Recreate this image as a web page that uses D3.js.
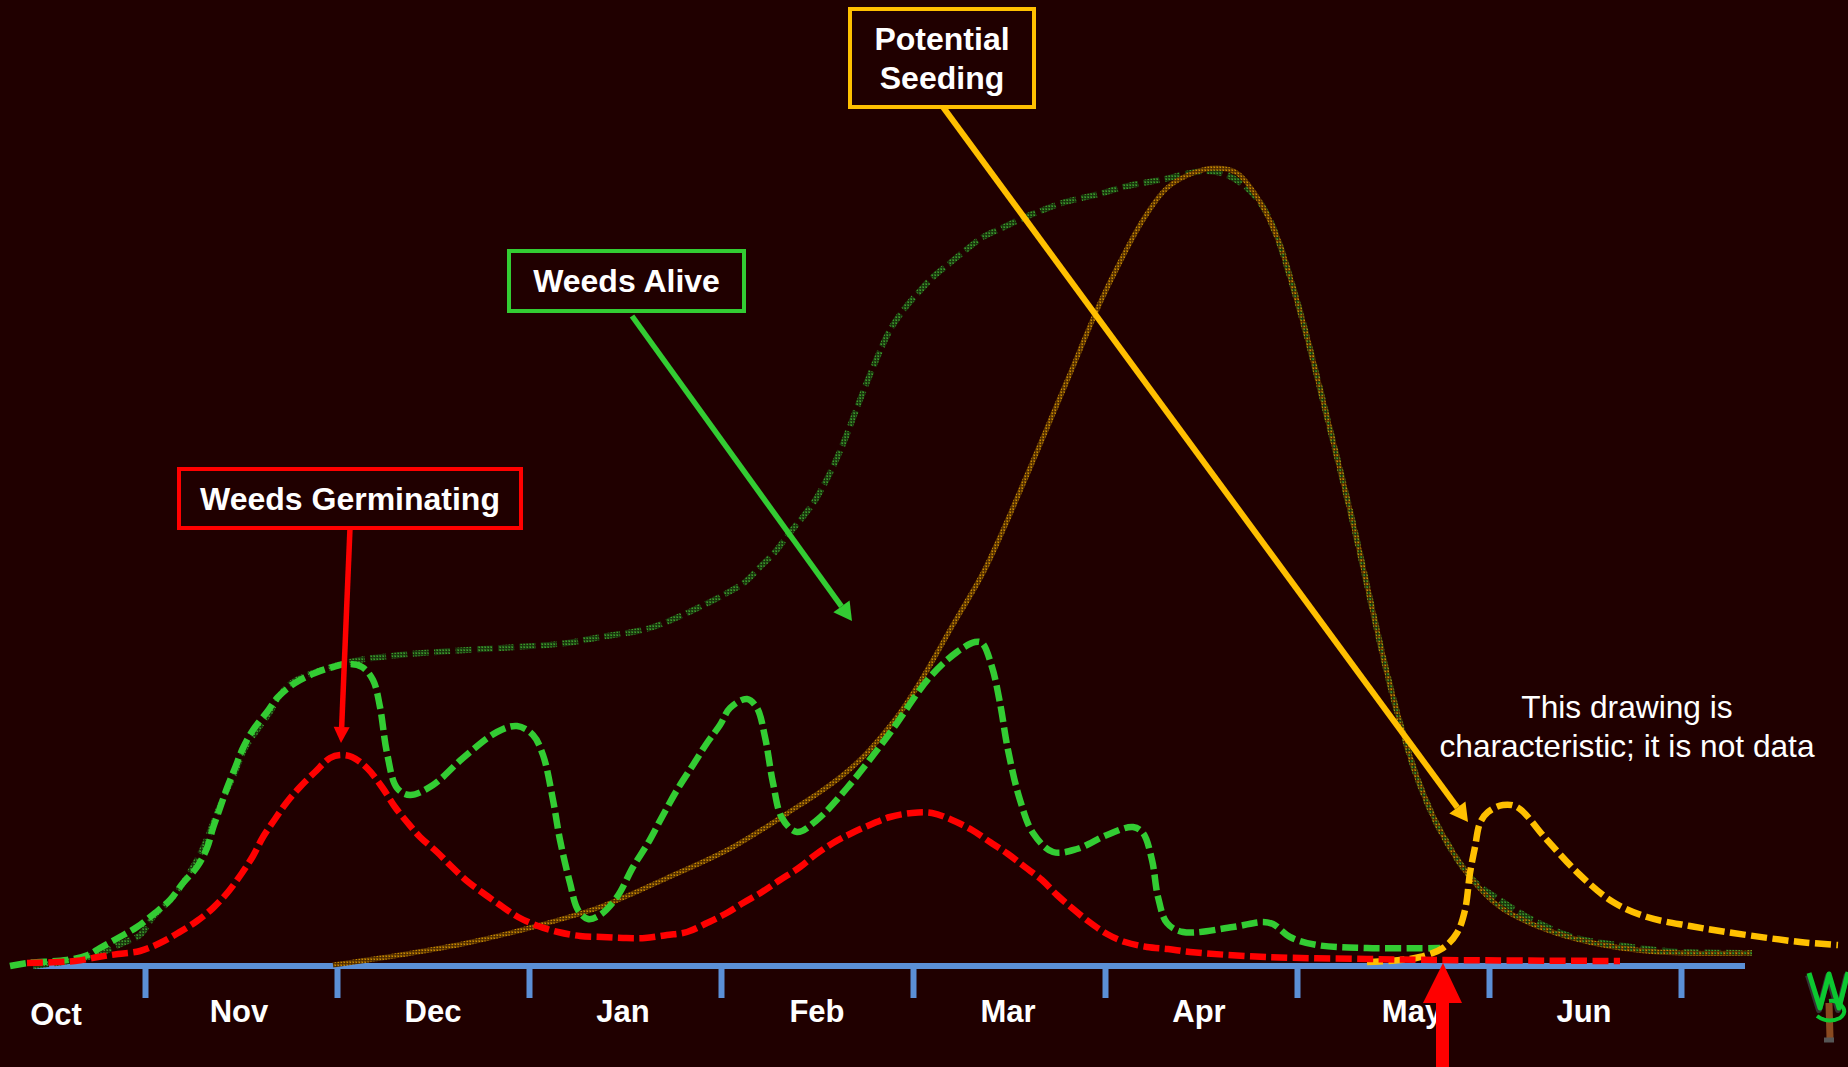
<!DOCTYPE html>
<html><head><meta charset="utf-8">
<script src="https://cdn.jsdelivr.net/npm/d3@7"></script>
<style>html,body{margin:0;padding:0;background:#200000;overflow:hidden}svg{display:block}text{font-family:"Liberation Sans",Arial,sans-serif;fill:#fff}</style>
</head><body><svg id="c" width="1848" height="1067"></svg>
<script>
// time unit: 192 units per month; value unit: relative weed abundance (0-800)
const monthNames = ["Oct","Nov","Dec","Jan","Feb","Mar","Apr","May","Jun"];
const monthLabelT = [23,206,400,590,784,975,1166,1379,1551];
const monthTicks = [112,304,496,688,880,1072,1264,1456,1648];

const germT = [-6,42,65,85,107,127,145,164,180,195,209,220,230,242,254,267,282,297,307,319,334,349,362,374,387,404,419,434,450,467,485,505,525,547,569,590,612,634,654,674,692,710,729,747,767,782,800,819,839,857,879,899,919,939,957,975,992,1009,1024,1039,1055,1074,1092,1114,1135,1157,1234,1334,1407,1587];
const germV = [3,5,9,12,15,23,33,45,58,74,93,110,129,147,164,179,194,208,211,209,198,179,159,144,129,114,99,85,73,61,49,40,34,30,29,28,28,31,34,43,52,63,74,86,99,111,123,133,142,149,153,153,146,136,124,112,99,86,71,58,45,32,24,19,17,14,9,7,6,5];

const aliveT = [-23,-6,34,55,67,85,104,122,137,150,164,174,180,187,194,202,210,220,234,245,262,282,300,314,329,340,347,354,364,377,400,430,464,484,500,510,520,527,537,545,555,567,584,600,615,629,644,660,674,687,697,714,724,732,740,749,764,784,814,854,897,924,942,949,959,967,975,987,1000,1020,1044,1074,1100,1110,1119,1125,1134,1150,1200,1230,1240,1257,1284,1334,1407];
const aliveV = [0,3,6,11,18,28,39,53,66,83,99,118,138,158,178,198,218,236,254,269,283,293,299,302,299,286,259,213,178,171,181,208,234,240,231,211,166,126,83,56,47,51,69,99,123,149,176,201,223,241,258,267,258,229,183,148,134,146,178,229,289,314,324,323,299,263,216,166,133,114,117,131,139,133,106,69,43,34,39,44,42,29,21,18,18];

const seedT = [300,367,434,500,567,634,700,767,787,810,830,847,867,884,900,917,950,967,1000,1034,1067,1084,1110,1134,1160,1184,1204,1224,1244,1260,1274,1294,1320,1354,1370,1385,1407,1437,1467,1514,1560,1624,1719];
const seedV = [1,11,23,39,59,88,119,161,174,191,209,228,253,279,306,336,393,429,505,585,663,698,746,778,793,798,793,769,729,679,629,549,443,293,233,186,136,89,59,36,23,14,13];

const totalT = [0,47,70,90,107,120,140,160,170,187,202,212,237,247,260,317,367,434,484,534,567,617,675,694,712,727,742,755,769,781,795,810,825,841,857,872,885,900,917,934,950,969,990,1010,1029,1049,1070,1090,1110,1132,1152,1174,1194,1214,1230,1244,1260,1274,1294,1320,1354,1370,1385,1407,1440,1464,1500,1540,1584,1624,1650,1719];
const totalV = [0,7,14,23,31,49,69,99,118,160,194,218,254,271,284,304,311,316,319,323,329,338,363,373,384,399,414,431,448,464,489,522,561,601,636,658,673,689,703,717,729,738,748,756,763,768,773,779,783,787,792,795,791,778,759,729,679,629,549,443,293,233,186,136,86,68,46,29,21,16,14,13];

const lateSeedT = [1334,1367,1387,1410,1424,1432,1437,1442,1447,1455,1470,1484,1514,1547,1580,1614,1657,1700,1767,1805];
const lateSeedV = [4,6,9,18,33,56,93,119,143,154,161,159,126,91,64,49,40,33,24,21];

const svg = d3.select("#c");
const W=1848,H=1067;
svg.append("rect").attr("width",W).attr("height",H).attr("fill","#200000");
const x = d3.scaleLinear().domain([0,1712]).range([33,1745]);
const y = d3.scaleLinear().domain([0,800]).range([966,166]);
const line = d3.line().x(d=>x(d[0])).y(d=>y(d[1])).curve(d3.curveCatmullRom.alpha(0.5));
const zip=(a,b)=>a.map((v,i)=>[v,b[i]]);

const defs=svg.append("defs");
function tex(id,base,light,dark){
  const p=defs.append("pattern").attr("id",id).attr("patternUnits","userSpaceOnUse").attr("width",3).attr("height",3);
  p.append("rect").attr("width",3).attr("height",3).attr("fill",base);
  p.append("rect").attr("x",0).attr("y",0).attr("width",1).attr("height",3).attr("fill",dark);
  p.append("rect").attr("x",0).attr("y",0).attr("width",3).attr("height",1).attr("fill",dark);
  p.append("rect").attr("x",2).attr("y",2).attr("width",1).attr("height",1).attr("fill",light);
}
tex("texG","#2c6a1e","#3f9a2a","rgba(25,50,12,0.9)");
tex("texO","#8a5800","#c88a00","rgba(70,36,0,0.7)");

// axis
const axis = d3.axisBottom(x).tickValues(monthTicks).tickSize(32).tickSizeOuter(0).tickFormat("");
const gA = svg.append("g").attr("transform","translate(0,966)").call(axis);
gA.selectAll("path,line").attr("stroke","#5b8fd6").attr("stroke-width",6);
gA.select("path").attr("d",`M${x(0)},0H${x(1712)}`);

// curves
function curve(t,v,col,w,dash){
  return svg.append("path").datum(zip(t,v)).attr("d",line).attr("fill","none")
    .attr("stroke",col).attr("stroke-width",w).attr("stroke-dasharray",dash||null);
}
curve(totalT,totalV,"url(#texG)",6,"16,5.4");
curve(seedT,seedV,"url(#texO)",5);
svg.append("path").datum(zip(seedT,seedV).filter(d=>d[0]>=1244)).attr("d",line).attr("fill","none")
   .attr("stroke","url(#texG)").attr("stroke-width",3).attr("stroke-dasharray","3,3");
curve(aliveT,aliveV,"#33cc33",6.5,"16,5.4");
curve(lateSeedT,lateSeedV,"#ffc000",6.5,"16,5.4");
curve(germT,germV,"#ff0000",6.5,"16,5.4");

// month labels
svg.append("g").selectAll("text").data(monthNames).join("text")
  .attr("x",(d,i)=>x(monthLabelT[i])).attr("y",(d,i)=>i===0?1025:1022)
  .attr("text-anchor","middle").attr("font-size",31).attr("font-weight","bold").text(d=>d);

// callouts
function arrow(x1,y1,x2,y2,col,w,hl,hw){
  const a=Math.atan2(y2-y1,x2-x1),c=Math.cos(a),s=Math.sin(a);
  const bx=x2-hl*c,by=y2-hl*s;
  svg.append("line").attr("x1",x1).attr("y1",y1).attr("x2",bx).attr("y2",by).attr("stroke",col).attr("stroke-width",w);
  svg.append("path").attr("fill",col).attr("d",`M${x2},${y2}L${bx-hw*s},${by+hw*c}L${bx+hw*s},${by-hw*c}Z`);
}
function box(x0,y0,x1,y1,col,lines,base){
  svg.append("rect").attr("x",x0).attr("y",y0).attr("width",x1-x0).attr("height",y1-y0)
    .attr("fill","none").attr("stroke",col).attr("stroke-width",4);
  lines.forEach((t,i)=>svg.append("text").attr("x",(x0+x1)/2).attr("y",base[i])
    .attr("text-anchor","middle").attr("font-size",32).attr("font-weight","bold").text(t));
}
arrow(943,107,1468,822,"#ffc000",6,18,10);
arrow(632,316,852,621,"#33cc33",5.5,18,10);
arrow(350,528,341,743,"#ff0000",5.5,16,8);
box(850,9,1034,107,"#ffc000",["Potential","Seeding"],[50,89]);
box(509,251,744,311,"#33cc33",["Weeds Alive"],[292]);
box(179,469,521,528,"#ff0000",["Weeds Germinating"],[510]);

// note
[["This drawing is",718],["characteristic; it is not data",757]].forEach(d=>
 svg.append("text").attr("x",1627).attr("y",d[1]).attr("text-anchor","middle").attr("font-size",31.7).text(d[0]));

// large date arrow
svg.append("path").attr("fill","#ff0000").attr("d","M1443,963L1462,1003H1449V1067H1436V1003H1423Z");

// logo
const logo=svg.append("g").attr("fill","none").attr("stroke-linejoin","round");
logo.append("path").attr("d","M1829,1003L1830,1038").attr("stroke","#8a4a20").attr("stroke-width",7);
logo.append("path").attr("d","M1824,1040H1834").attr("stroke","#555").attr("stroke-width",5);
const w="M1809,973L1820,1008L1829,974L1839,1008L1848,972";
logo.append("path").attr("d",w).attr("stroke","#333").attr("stroke-width",6).attr("transform","translate(-1,2)");
logo.append("path").attr("d",w).attr("stroke","#0cc830").attr("stroke-width",5);
logo.append("path").attr("d","M1817,1016Q1828,1024 1840,1018Q1848,1012 1841,1005Q1836,1000 1829,1001").attr("stroke","#0cc830").attr("stroke-width",4);
</script></body></html>
